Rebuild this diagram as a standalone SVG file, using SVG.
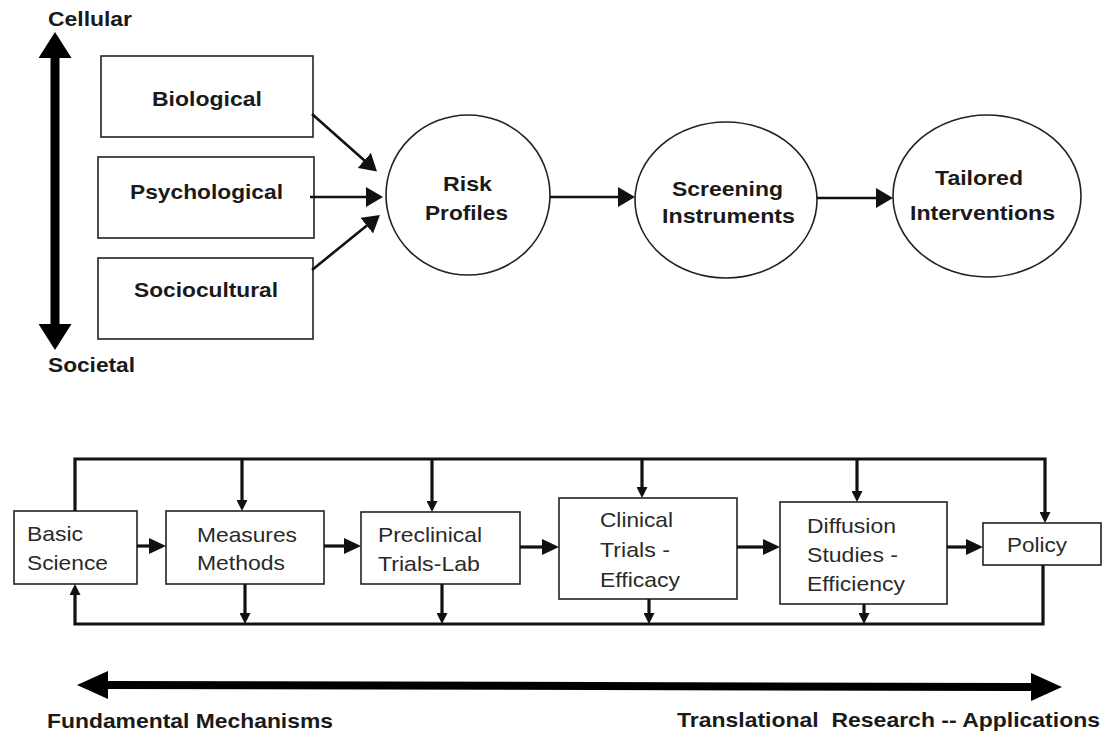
<svg xmlns="http://www.w3.org/2000/svg" width="1103" height="731" viewBox="0 0 1103 731">
<style>
  .box { fill: #fff; stroke: #222; stroke-width: 1.6; }
  .ell { fill: #fff; stroke: #222; stroke-width: 1.6; }
  .lb { font-family: "Liberation Sans", Arial, sans-serif; font-weight: bold; font-size: 21px; fill: #1a1a1a; }
  .lr { font-family: "Liberation Sans", Arial, sans-serif; font-size: 21px; fill: #2a2a2a; }
  .ct { stroke: #111; stroke-width: 2.6; fill: none; }
  .cb { stroke: #111; stroke-width: 3.2; fill: none; }
  .big { stroke: #000; fill: none; }
</style>
<defs>
  <marker id="ah" markerUnits="userSpaceOnUse" viewBox="0 0 17 20" markerWidth="17" markerHeight="20" refX="1" refY="10" orient="auto">
    <path d="M0,0 L17,10 L0,20 z" fill="#111"/>
  </marker>
  <marker id="ahs" markerUnits="userSpaceOnUse" viewBox="0 0 17 16" markerWidth="17" markerHeight="16" refX="1" refY="8" orient="auto">
    <path d="M0,0 L17,8 L0,16 z" fill="#111"/>
  </marker>
  <marker id="ahv" markerUnits="userSpaceOnUse" viewBox="0 0 11 11" markerWidth="11" markerHeight="11" refX="1" refY="5.5" orient="auto">
    <path d="M0,0 L11,5.5 L0,11 z" fill="#111"/>
  </marker>
  <marker id="bigv" markerUnits="userSpaceOnUse" viewBox="0 0 26 33" markerWidth="26" markerHeight="33" refX="1" refY="16.5" orient="auto-start-reverse">
    <path d="M0,0 L26,16.5 L0,33 z" fill="#000"/>
  </marker>
  <marker id="bigh" markerUnits="userSpaceOnUse" viewBox="0 0 31 28" markerWidth="31" markerHeight="28" refX="1" refY="14" orient="auto-start-reverse">
    <path d="M0,0 L31,14 L0,28 z" fill="#000"/>
  </marker>
</defs>

<!-- scale axes -->
<g id="axis-vertical">
  <path class="big" stroke-width="9" d="M55,57 L55,325" marker-start="url(#bigv)" marker-end="url(#bigv)"/>
  <text class="lb" x="48" y="26" textLength="84" lengthAdjust="spacingAndGlyphs">Cellular</text>
  <text class="lb" x="48" y="372" textLength="87" lengthAdjust="spacingAndGlyphs">Societal</text>
</g>
<g id="axis-horizontal">
  <path class="big" stroke-width="8" d="M107,685 L1032,687" marker-start="url(#bigh)" marker-end="url(#bigh)"/>
  <text class="lb" x="47" y="728" textLength="286" lengthAdjust="spacingAndGlyphs">Fundamental Mechanisms</text>
  <text class="lb" x="677" y="727" textLength="423" lengthAdjust="spacingAndGlyphs" style="white-space:pre">Translational  Research -- Applications</text>
</g>

<!-- top nodes -->
<g id="biological">
  <rect class="box" x="101" y="56" width="212" height="81"/>
  <text class="lb" x="152" y="106" textLength="110" lengthAdjust="spacingAndGlyphs">Biological</text>
</g>
<g id="psychological">
  <rect class="box" x="98" y="157" width="216" height="81"/>
  <text class="lb" x="130" y="199" textLength="153" lengthAdjust="spacingAndGlyphs">Psychological</text>
</g>
<g id="sociocultural">
  <rect class="box" x="98" y="258" width="215" height="81"/>
  <text class="lb" x="134" y="297" textLength="144" lengthAdjust="spacingAndGlyphs">Sociocultural</text>
</g>
<g id="risk-profiles">
  <ellipse class="ell" cx="468" cy="195" rx="82" ry="80"/>
  <text class="lb" x="443" y="191" textLength="49" lengthAdjust="spacingAndGlyphs">Risk</text>
  <text class="lb" x="425" y="220" textLength="83" lengthAdjust="spacingAndGlyphs">Profiles</text>
</g>
<g id="screening-instruments">
  <ellipse class="ell" cx="726" cy="200" rx="91" ry="78"/>
  <text class="lb" x="672" y="196" textLength="111" lengthAdjust="spacingAndGlyphs">Screening</text>
  <text class="lb" x="662" y="223" textLength="133" lengthAdjust="spacingAndGlyphs">Instruments</text>
</g>
<g id="tailored-interventions">
  <ellipse class="ell" cx="987" cy="196" rx="94" ry="81"/>
  <text class="lb" x="935" y="185" textLength="88" lengthAdjust="spacingAndGlyphs">Tailored</text>
  <text class="lb" x="910" y="220" textLength="145" lengthAdjust="spacingAndGlyphs">Interventions</text>
</g>

<!-- bottom nodes -->
<g id="basic-science">
  <rect class="box" x="14" y="511" width="123" height="73"/>
  <text class="lr" x="27" y="541" textLength="56" lengthAdjust="spacingAndGlyphs">Basic</text>
  <text class="lr" x="27" y="570" textLength="81" lengthAdjust="spacingAndGlyphs">Science</text>
</g>
<g id="measures-methods">
  <rect class="box" x="166" y="511" width="158" height="73"/>
  <text class="lr" x="197" y="542" textLength="100" lengthAdjust="spacingAndGlyphs">Measures</text>
  <text class="lr" x="197" y="570" textLength="88" lengthAdjust="spacingAndGlyphs">Methods</text>
</g>
<g id="preclinical">
  <rect class="box" x="361" y="512" width="159" height="72"/>
  <text class="lr" x="378" y="542" textLength="104" lengthAdjust="spacingAndGlyphs">Preclinical</text>
  <text class="lr" x="378" y="571" textLength="102" lengthAdjust="spacingAndGlyphs">Trials-Lab</text>
</g>
<g id="clinical-trials">
  <rect class="box" x="559" y="498" width="178" height="101"/>
  <text class="lr" x="600" y="527" textLength="73" lengthAdjust="spacingAndGlyphs">Clinical</text>
  <text class="lr" x="600" y="557" textLength="70" lengthAdjust="spacingAndGlyphs">Trials -</text>
  <text class="lr" x="600" y="587" textLength="80" lengthAdjust="spacingAndGlyphs">Efficacy</text>
</g>
<g id="diffusion-studies">
  <rect class="box" x="780" y="502" width="167" height="102"/>
  <text class="lr" x="807" y="533" textLength="89" lengthAdjust="spacingAndGlyphs">Diffusion</text>
  <text class="lr" x="807" y="562" textLength="91" lengthAdjust="spacingAndGlyphs">Studies -</text>
  <text class="lr" x="807" y="591" textLength="98" lengthAdjust="spacingAndGlyphs">Efficiency</text>
</g>
<g id="policy">
  <rect class="box" x="983" y="523" width="118" height="42"/>
  <text class="lr" x="1007" y="552" textLength="60" lengthAdjust="spacingAndGlyphs">Policy</text>
</g>

<!-- connectors -->
<g id="connectors">
  <path class="ct" d="M312,114 L365,161" marker-end="url(#ah)"/>
  <path class="ct" d="M310,197 L367,197" marker-end="url(#ah)"/>
  <path class="ct" d="M312,270 L367.5,225" marker-end="url(#ah)"/>
  <path class="ct" d="M550,197 L619,197" marker-end="url(#ah)"/>
  <path class="ct" d="M817,198 L877,198" marker-end="url(#ah)"/>

  <path class="cb" d="M137,546 L150,546" marker-end="url(#ahs)"/>
  <path class="cb" d="M324,546 L345,546" marker-end="url(#ahs)"/>
  <path class="cb" d="M520,547 L543,547" marker-end="url(#ahs)"/>
  <path class="cb" d="M737,547 L764,547" marker-end="url(#ahs)"/>
  <path class="cb" d="M947,547 L967,547" marker-end="url(#ahs)"/>

  <path class="cb" d="M75,511 L75,459 L1045,459 L1045,513" marker-end="url(#ahv)"/>
  <path class="cb" d="M242,459 L242,501" marker-end="url(#ahv)"/>
  <path class="cb" d="M432,459 L432,502" marker-end="url(#ahv)"/>
  <path class="cb" d="M642,459 L642,488" marker-end="url(#ahv)"/>
  <path class="cb" d="M857,459 L857,492" marker-end="url(#ahv)"/>

  <path class="cb" d="M1043,565 L1043,624 L75,624 L75,594" marker-end="url(#ahv)"/>
  <path class="cb" d="M245,584 L245,614" marker-end="url(#ahv)"/>
  <path class="cb" d="M442,584 L442,614" marker-end="url(#ahv)"/>
  <path class="cb" d="M649,599 L649,614" marker-end="url(#ahv)"/>
  <path class="cb" d="M864,604 L864,614" marker-end="url(#ahv)"/>
</g>
</svg>
